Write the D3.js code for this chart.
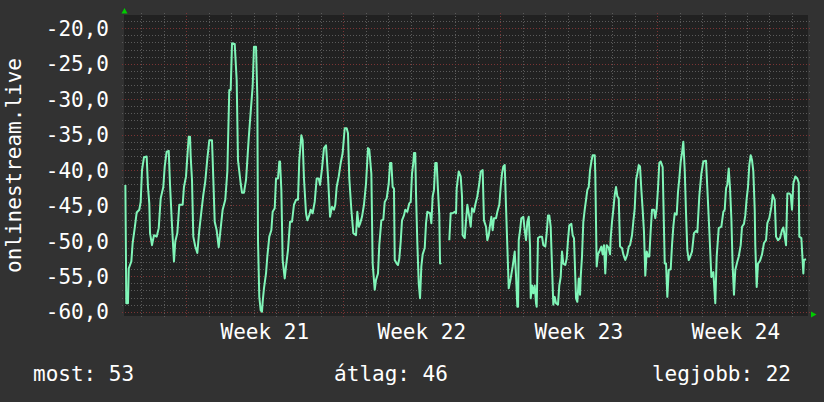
<!DOCTYPE html>
<html>
<head>
<meta charset="utf-8">
<script src="https://cdn.jsdelivr.net/npm/d3@7"></script>
<style>
  html, body { margin: 0; padding: 0; background: #323232; }
  svg { display: block; }
  text { font-family: "DejaVu Sans Mono", monospace; fill: #ffffff; font-size: 21px; }
</style>
</head>
<body>
<script>
var width = 824, height = 402;

// ---- data ----
var startDate = new Date(2024, 4, 17);   // hour offsets below count from here
var viewHours = [5.34, 737.2];           // visible time window

var hourOffsets = [
  6.8,7.8,9.6,10.4,13.2,14.6,16.8,18.9,21.7,23.2,24.6,26.7,29.6,31.0,32.4,33.2,35.3,37.4,40.3,42.5,
  44.6,47.4,48.9,51.0,53.2,54.6,56.7,58.8,60.2,62.4,64.5,68.1,69.5,71.7,73.1,74.6,76.0,76.7,78.1,79.5,
  81.6,83.8,85.9,88.1,90.2,92.3,94.5,96.6,99.5,100.9,102.4,104.5,106.7,108.8,110.9,113.7,115.9,118.0,119.5,120.9,
  123.8,125.9,127.3,130.2,131.6,133.7,135.9,137.3,138.8,140.9,143.0,144.4,146.6,148.0,148.7,150.1,
  151.6,153.0,153.7,155.1,157.3,158.7,160.8,163.0,164.4,166.6,168.0,170.1,171.5,172.3,173.7,175.1,177.3,178.7,180.8,183.0,
  185.1,187.2,189.4,191.5,192.9,195.1,196.5,197.9,200.1,201.5,203.6,205.1,207.2,209.4,211.5,213.7,215.1,217.2,219.3,221.5,
  223.6,225.8,227.9,230.0,231.4,232.9,235.1,237.2,239.3,241.5,243.6,245.0,246.4,248.6,250.7,253.6,255.0,256.5,257.9,260.0,
  262.1,264.3,266.4,267.8,270.0,271.4,273.6,275.0,277.1,278.5,280.7,282.8,284.3,286.4,288.6,290.0,291.4,292.8,294.2,
  295.0,297.1,298.5,299.9,301.4,302.8,304.9,306.3,308.5,310.6,312.1,313.5,314.9,315.6,317.0,317.8,319.2,320.7,322.1,323.5,
  324.9,327.1,328.5,329.9,332.8,334.2,335.6,337.0,338.4,339.9,341.3,342.7,343.5,344.9,
  349.0,
  353.4,354.9,357.0,359.2,360.6,361.3,363.5,365.6,367.0,367.7,369.9,371.3,372.7,374.8,376.3,377.7,379.8,381.2,383.4,385.5,
  387.0,389.1,390.5,392.7,394.1,395.6,397.0,398.4,399.8,401.2,403.4,404.8,406.9,408.4,409.8,411.2,412.7,414.1,415.5,417.0,
  419.1,421.2,423.4,424.8,426.2,427.0,427.7,429.1,430.5,432.6,434.1,435.5,436.9,438.4,439.8,440.5,
  441.9,443.3,444.8,446.2,446.9,448.3,450.5,452.6,454.0,456.1,457.6,459.0,460.4,461.9,463.3,464.7,466.2,467.6,469.7,471.1,
  472.6,474.0,475.4,477.5,479.0,480.4,481.8,484.0,485.4,486.8,487.6,489.0,490.4,491.9,493.3,494.0,495.4,496.8,498.3,499.7,
  501.1,502.6,504.0,505.4,506.8,509.0,509.6,511.1,512.5,513.9,516.1,517.5,518.9,520.3,521.8,524.0,525.4,526.1,527.5,528.9,
  530.4,531.8,533.2,534.7,536.1,538.2,539.6,541.7,543.9,545.4,546.8,548.9,550.3,551.8,553.2,554.6,556.1,557.5,558.9,560.3,
  561.7,563.1,564.6,566.0,567.4,568.9,570.3,572.4,573.8,575.3,576.7,578.1,579.6,581.7,583.9,
  585.3,586.7,588.2,590.3,591.7,593.1,594.6,596.7,598.1,599.5,601.0,602.4,603.8,605.3,606.7,608.1,609.6,611.0,613.1,615.2,
  617.4,618.8,620.9,623.1,625.2,628.1,629.5,631.6,633.8,635.9,638.0,639.5,641.7,644.5,646.6,648.1,649.5,650.9,652.4,653.8,
  655.2,656.6,658.0,659.4,661.6,663.1,665.2,666.6,668.7,670.1,671.6,673.0,674.4,675.9,677.3,678.7,680.2,680.8,682.3,683.7,
  685.9,688.0,690.1,692.3,693.7,695.8,698.0,699.4,701.6,703.0,705.1,707.3,709.4,710.8,712.3,713.7,715.1,717.2,718.7,720.1,
  721.5,723.6,725.8,727.3,727.9,730.1,731.5,732.2,732.9,735.1
];

var signal = [
  -42.1,-58.8,-58.8,-53.9,-52.9,-50.3,-48.2,-46.0,-45.6,-44.5,-40.0,-38.2,-38.1,-42.4,-44.7,-48.9,-50.6,-49.2,-49.4,-48.2,
  -44.0,-42.4,-39.5,-37.4,-37.3,-42.1,-47.8,-52.9,-50.1,-48.9,-44.9,-44.9,-42.4,-40.9,-38.1,-35.3,-35.3,-38.1,-41.4,-49.4,
  -50.8,-51.7,-48.5,-45.9,-43.5,-41.6,-38.4,-35.8,-35.8,-41.2,-47.3,-48.5,-50.9,-48.2,-45.6,-44.2,-40.2,-28.7,-28.7,-22.1,
  -22.2,-27.3,-38.6,-41.9,-43.2,-43.2,-41.4,-38.6,-35.5,-31.8,-28.2,-22.6,-22.6,-29.7,-49.9,-57.9,
  -59.8,-60.0,-58.6,-56.7,-54.6,-52.2,-49.4,-48.5,-45.9,-45.4,-41.2,-41.2,-38.8,-38.8,-42.8,-52.7,-55.3,-53.6,-51.3,-47.3,
  -47.3,-44.9,-44.2,-44.2,-38.6,-35.1,-35.8,-41.2,-46.1,-47.1,-46.4,-45.6,-46.1,-44.5,-41.2,-41.2,-42.1,-39.8,-36.9,-36.5,
  -40.9,-46.6,-45.2,-45.6,-44.9,-42.4,-40.9,-39.0,-37.6,-34.1,-34.1,-34.8,-41.2,-45.6,-48.9,-49.2,-45.9,-48.0,-47.6,-46.6,
  -44.9,-41.9,-36.9,-37.1,-40.5,-53.2,-56.9,-55.5,-54.6,-50.6,-47.1,-47.0,-44.5,-44.0,-41.9,-39.0,-39.0,-42.4,-42.6,
  -52.7,-53.2,-53.4,-52.5,-50.1,-47.1,-46.4,-45.6,-45.9,-44.7,-44.5,-40.5,-39.0,-37.6,-37.6,-43.3,-50.3,-56.0,-58.1,-53.6,
  -51.9,-51.0,-47.5,-45.9,-46.1,-47.5,-43.7,-42.8,-39.0,-39.0,-42.8,-46.4,-53.2,-53.1,
  null,
  -49.9,-46.1,-46.1,-45.9,-46.1,-42.6,-40.2,-40.9,-43.7,-49.2,-49.6,-47.1,-44.9,-46.6,-48.0,-45.4,-45.9,-44.9,-43.7,-41.9,
  -40.2,-40.0,-47.1,-48.0,-49.9,-49.2,-47.8,-46.6,-48.5,-46.8,-46.8,-45.9,-44.9,-42.4,-40.5,-39.5,-39.3,-45.2,-50.8,-56.7,
  -55.3,-53.6,-51.5,-54.9,-59.3,-59.3,-49.9,-48.5,-46.8,-46.6,-48.5,-49.9,-47.3,-46.6,-50.8,-58.1,
  -56.3,-57.4,-56.3,-58.8,-59.3,-49.6,-49.4,-49.4,-50.6,-50.8,-48.9,-46.4,-46.4,-48.0,-53.6,-59.0,-57.9,-58.8,-59.0,-56.3,
  -55.1,-51.5,-53.2,-53.4,-52.5,-49.9,-47.8,-47.6,-49.2,-49.6,-52.7,-58.1,-58.6,-55.3,-57.6,-55.1,-52.2,-47.3,-45.6,-44.2,
  -42.8,-42.4,-40.0,-38.8,-37.9,-37.9,-40.5,-53.6,-51.9,-51.5,-50.8,-51.9,-50.6,-54.6,-50.6,-51.0,-51.9,-49.6,-47.3,-45.6,
  -43.5,-42.4,-43.7,-44.0,-50.8,-51.0,-51.9,-52.7,-51.9,-50.8,-50.6,-49.2,-47.3,-45.4,-41.4,-40.5,-39.3,-39.5,-42.8,-45.6,
  -48.7,-54.9,-51.5,-52.2,-52.2,-48.5,-45.6,-45.6,-46.8,-45.4,-42.6,-39.0,-38.8,-39.6,-53.2,
  -53.2,-57.9,-54.1,-54.0,-50.6,-48.0,-46.1,-46.3,-43.1,-41.2,-38.8,-37.6,-36.0,-40.0,-46.1,-51.3,-52.7,-52.3,-51.5,-48.9,
  -48.6,-48.8,-43.7,-40.5,-38.8,-38.7,-42.6,-48.5,-55.1,-54.4,-58.8,-52.2,-48.2,-48.0,-45.9,-45.6,-42.6,-42.0,-39.8,-42.6,
  -46.8,-53.6,-57.6,-54.1,-52.9,-52.2,-50.6,-48.0,-47.6,-46.4,-44.0,-42.4,-39.3,-37.9,-38.6,-40.2,-45.6,-50.6,-56.5,-53.2,
  -52.8,-51.9,-50.3,-49.9,-47.5,-46.8,-45.2,-43.5,-44.2,-49.4,-49.9,-49.6,-48.5,-48.1,-49.4,-50.6,-43.3,-43.3,-43.5,-45.6,
  -41.9,-40.9,-41.2,-41.8,-49.4,-49.6,-52.9,-54.6,-52.7,-52.6
];

var yDomain = [-60.6, -18.12];
var yTicks = [-60, -55, -50, -45, -40, -35, -30, -25, -20];
var weekLabels = ["Week 21", "Week 22", "Week 23", "Week 24"];
var yTitle = "onlinestream.live";
var legendLabels = ["most", "átlag", "legjobb"];
var legendValues = [53, 46, 22];

// ---- setup ----
var plot = { left: 124, top: 15, right: 808, bottom: 316 };

var toDate = function(h) {
    return new Date(startDate.getTime() + h * 3600 * 1000);
};

var x = d3.scaleTime()
    .domain(viewHours.map(toDate))
    .range([plot.left, plot.right]);

var y = d3.scaleLinear()
    .domain(yDomain)
    .range([plot.bottom, plot.top]);

var fmt = d3.formatLocale({ decimal: ",", thousands: " ", grouping: [3], currency: ["", ""], minus: "-" }).format(".1f");

var svg = d3.select("body").append("svg")
    .attr("width", width)
    .attr("height", height);

svg.append("rect")
    .attr("width", width).attr("height", height)
    .attr("fill", "#323232");

svg.append("rect")
    .attr("x", plot.left).attr("y", plot.top)
    .attr("width", plot.right - plot.left)
    .attr("height", plot.bottom - plot.top)
    .attr("fill", "#212121");

var crisp = function(v) { return Math.round(v) + 0.5; };

/* grid: minor every unit / every day, major every 5 units / every Monday */
var grid = svg.append("g").attr("stroke-dasharray", "1,2").attr("stroke-width", 1);

var minorY = d3.range(-60, -18, 1).filter(function(v) { return v % 5 != 0; });
grid.selectAll(".hmin").data(minorY).enter().append("line")
    .attr("x1", plot.left - 2).attr("x2", plot.right + 2)
    .attr("y1", function(d) { return crisp(y(d)); })
    .attr("y2", function(d) { return crisp(y(d)); })
    .attr("stroke", "#5a5a5a");

var days = d3.timeDay.range(x.domain()[0], x.domain()[1]);
var mondays = d3.timeMonday.range(x.domain()[0], x.domain()[1]);
var minorX = days.filter(function(d) { return d.getDay() != 1; });

grid.selectAll(".vmin").data(minorX).enter().append("line")
    .attr("y1", plot.top - 2).attr("y2", plot.bottom + 2)
    .attr("x1", function(d) { return crisp(x(d)); })
    .attr("x2", function(d) { return crisp(x(d)); })
    .attr("stroke", "#5a5a5a");

grid.selectAll(".hmaj").data(yTicks).enter().append("line")
    .attr("x1", plot.left - 2).attr("x2", plot.right + 2)
    .attr("y1", function(d) { return crisp(y(d)); })
    .attr("y2", function(d) { return crisp(y(d)); })
    .attr("stroke", "#7a3434");

grid.selectAll(".vmaj").data(mondays).enter().append("line")
    .attr("y1", plot.top - 2).attr("y2", plot.bottom + 2)
    .attr("x1", function(d) { return crisp(x(d)); })
    .attr("x2", function(d) { return crisp(x(d)); })
    .attr("stroke", "#7a3434");

/* data line */
var points = d3.zip(hourOffsets, signal);
var line = d3.line()
    .defined(function(d) { return d[1] !== null; })
    .x(function(d) { return x(toDate(d[0])); })
    .y(function(d) { return y(d[1]); });

svg.append("path")
    .datum(points)
    .attr("d", line)
    .attr("fill", "none")
    .attr("stroke", "#80f5b8")
    .attr("stroke-width", 2)
    .attr("stroke-linejoin", "round");

/* axis arrows */
svg.append("path")
    .attr("d", "M121.5,13.5 L127.5,13.5 L124.5,8 Z")
    .attr("fill", "#00cc00");
svg.append("path")
    .attr("d", "M811,311.5 L811,317.5 L816.5,314.5 Z")
    .attr("fill", "#00cc00");

/* y tick labels */
svg.selectAll(".ylab").data(yTicks).enter().append("text")
    .attr("x", 109)
    .attr("y", function(d) { return y(d); })
    .attr("dy", "0.365em")
    .attr("text-anchor", "end")
    .text(function(d) { return fmt(d); });

/* week labels, centred in each week */
svg.selectAll(".xlab").data(weekLabels).enter().append("text")
    .attr("x", function(d, i) { return x(d3.timeHour.offset(mondays[i], 84)); })
    .attr("y", 339)
    .attr("text-anchor", "middle")
    .text(function(d) { return d; });

/* y title */
svg.append("text")
    .attr("transform", "translate(21," + ((plot.top + plot.bottom) / 2) + ") rotate(-90)")
    .attr("text-anchor", "middle")
    .text(yTitle);

/* legend */
var legendX = [33, 391, 791];
var legendAnchor = ["start", "middle", "end"];
svg.selectAll(".leg").data(legendLabels).enter().append("text")
    .attr("x", function(d, i) { return legendX[i]; })
    .attr("y", 381)
    .attr("text-anchor", function(d, i) { return legendAnchor[i]; })
    .text(function(d, i) { return d + ": " + legendValues[i]; });
</script>
</body>
</html>
